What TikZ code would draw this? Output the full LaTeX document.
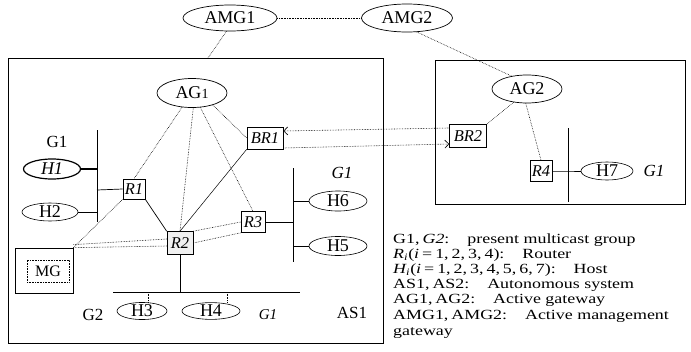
\documentclass[tikz,border=0pt]{standalone}
\usepackage{fontspec}
\setmainfont{Liberation Serif}
\usetikzlibrary{shapes.geometric,arrows.meta}
\begin{document}
\begin{tikzpicture}[x=1pt,y=-1pt,
  ell/.style={draw,ellipse,inner sep=0pt,line width=0.7pt,font=\fontsize{18}{18}\selectfont},
  rbox/.style={draw,rectangle,inner sep=1pt,line width=0.6pt,font=\fontsize{16.5}{16.5}\selectfont\itshape},
  dl/.style={densely dotted,line width=0.6pt},
  sl/.style={line width=0.7pt},
  lbl/.style={font=\fontsize{17}{17}\selectfont},
  leg/.style={anchor=west,inner sep=0pt,font=\fontsize{14}{14}\selectfont},
  tip/.style={-{Straight Barb[length=4pt,width=8pt]}}
]
\useasboundingbox (0,0) rectangle (691,351);
% autonomous systems
\draw[sl] (8,58) rectangle (383,343);
\draw[sl] (435,60) rectangle (685,204);
% top ellipses
\node[ell,minimum width=94,minimum height=26] (amg1) at (230,18) {AMG1};
\node[ell,minimum width=91,minimum height=28] (amg2) at (407,18) {AMG2};
\node[ell,minimum width=70,minimum height=29] (ag1) at (192,93) {AG{\fontsize{14}{14}\selectfont 1}};
\node[ell,minimum width=70,minimum height=28] (ag2) at (527,89) {AG2};
\coordinate (as1top) at (208,58);
\draw[dl] (amg1) -- (amg2);
\draw[dl] (amg1.255) -- (as1top);
\draw[dl] (amg2.305) -- (ag2.140);
% AS2
\node[rbox,minimum width=37,minimum height=23] (br2) at (468,136) {BR2};
\node[rbox,minimum width=22,minimum height=21] (r4) at (541,171) {R4};
\node[ell,line width=0.6pt,minimum width=52,minimum height=18] (h7) at (607,171) {H7};
\node[lbl,font=\fontsize{17}{17}\selectfont\itshape] (g1c) at (654,171) {G1};
\coordinate (bus4t) at (568,128);
\coordinate (bus4b) at (568,202);
\coordinate (bus4m) at (568,171);
\draw[sl] (bus4t) -- (bus4b);
\draw[sl] (r4) -- (bus4m) -- (h7);
\draw[dl] (ag2.225) -- (br2.north east);
\draw[dl] (ag2.265) -- (r4.north);
% AS1 routers
\node[rbox,minimum width=36,minimum height=22] (br1) at (265,138) {BR1};
\node[rbox,minimum width=22,minimum height=20] (r1) at (134,189) {R1};
\node[rbox,fill=gray!12,minimum width=26,minimum height=23] (r2) at (180,243) {R2};
\node[rbox,minimum width=24,minimum height=21] (r3) at (253,222) {R3};
% MG
\node[draw,sl,minimum width=58,minimum height=45,inner sep=0pt] (mgo) at (44,270.5) {};
\node[draw,densely dotted,line width=0.6pt,minimum width=42,minimum height=22,inner sep=0pt,font=\fontsize{16}{16}\selectfont] (mg) at (48,271) {MG};
% hosts
\node[ell,line width=1.2pt,minimum width=57,minimum height=20] (h1) at (52,169) {\itshape H1};
\node[ell,line width=0.6pt,minimum width=56,minimum height=18] (h2) at (50,212) {H2};
\node[ell,line width=0.6pt,minimum width=58,minimum height=20] (h6) at (338,201) {H6};
\node[ell,line width=0.6pt,minimum width=58,minimum height=19] (h5) at (338,246) {H5};
\node[ell,line width=0.6pt,minimum width=50,minimum height=16] (h3) at (142,311) {H3};
\node[ell,line width=0.6pt,minimum width=58,minimum height=16] (h4) at (211,311) {H4};
% buses
\coordinate (b1t) at (97,130); \coordinate (b1b) at (97,222);
\draw[sl] (b1t) -- (b1b);
\coordinate (b1h1) at (97,169); \coordinate (b1h2) at (97,212); \coordinate (b1r1) at (97,190);
\draw[line width=1.2pt] (h1) -- (b1h1);
\draw[sl] (h2) -- (b1h2);
\draw[sl] (b1r1) -- (r1.west);
\coordinate (b2t) at (293,168); \coordinate (b2b) at (293,262);
\draw[sl] (b2t) -- (b2b);
\coordinate (b2h6) at (293,201); \coordinate (b2h5) at (293,246); \coordinate (b2r3) at (293,222);
\draw[sl] (b2h6) -- (h6); \draw[sl] (b2h5) -- (h5); \draw[line width=1pt] (r3) -- (b2r3);
\coordinate (b3l) at (113,292); \coordinate (b3r) at (300,292); \coordinate (b3r2) at (180,292);
\draw[sl] (b3l) -- (b3r);
\draw[sl] (r2) -- (b3r2);
\coordinate (b3h3) at (148,292); \coordinate (b3h4) at (227,292);
\draw[dl] (b3h3) -- (b3h3 |- h3.north);
\draw[dl] (b3h4) -- (b3h4 |- h4.north);
% connectors in AS1
\draw[dl] (ag1.235) -- (r1.north);
\draw[dl] (ag1.275) -- (r2.north);
\draw[dl] (ag1.300) -- (r3.north);
\draw[dl] (ag1.330) -- (br1.west);
\draw[line width=0.5pt] (br1.south west) -- (r2.north);
\draw[sl] (r1.south east) -- (r2.north west);
\draw[dl] (r2.north east) -- (r3.west);
\draw[dl] (r2.east) -- (r3.south west);
\draw[dl] (mgo.north east) -- (r1.south west);
\draw[dl] (mgo.north east) -- ([yshift=-3pt]r2.west);
\draw[dl] ([yshift=3pt]mgo.north east) -- ([yshift=4pt]r2.west);
% BR1 <-> BR2
\draw[dl,tip] ([yshift=-10pt]br1.east) -- ([yshift=-8pt]br2.west);
\draw[dl,tip] ([yshift=8pt]br2.west) -- ([yshift=7pt]br1.east);
% labels
\node[lbl] (g1a) at (57,142) {G1};
\node[lbl,font=\fontsize{17}{17}\selectfont\itshape] (g1b) at (342,173) {G1};
\node[lbl] (g2) at (93,315) {G2};
\node[lbl,font=\fontsize{15}{15}\selectfont\itshape] (g1d) at (268,315) {G1};
\node[lbl] (as1) at (352,313) {AS1};
% legend
\node[leg] (l1) at (393,240) {\scalebox{1.28}[1]{G1,\,\textit{G2}:\quad present multicast group}};
\node[leg] (l2) at (393,255) {\scalebox{1.28}[1]{\textit{R\textsubscript{i}}(\textit{i}\,=\,1,\,2,\,3,\,4):\quad Router}};
\node[leg] (l3) at (393,270) {\scalebox{1.28}[1]{\textit{H\textsubscript{i}}(\textit{i}\,=\,1,\,2,\,3,\,4,\,5,\,6,\,7):\quad Host}};
\node[leg] (l4) at (393,285) {\scalebox{1.28}[1]{AS1,\,AS2:\quad Autonomous system}};
\node[leg] (l5) at (393,300) {\scalebox{1.28}[1]{AG1,\,AG2:\quad Active gateway}};
\node[leg] (l6) at (393,316) {\scalebox{1.28}[1]{AMG1,\,AMG2:\quad Active management}};
\node[leg] (l7) at (393,333) {\scalebox{1.28}[1]{gateway}};
\end{tikzpicture}
\end{document}
